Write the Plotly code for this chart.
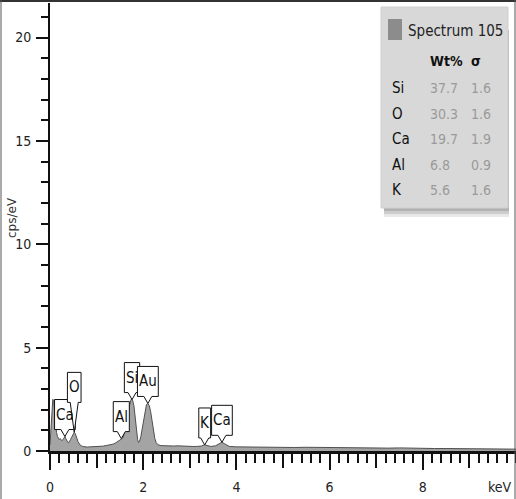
import plotly.graph_objects as go
import numpy as np

# ---------------- data ----------------
energy_kev = [0.00, 0.02, 0.04, 0.06, 0.08, 0.10, 0.12, 0.14, 0.16, 0.18, 0.20, 0.22, 0.25, 0.28,
              0.30, 0.32, 0.34, 0.36, 0.38, 0.40, 0.42, 0.44, 0.46, 0.48, 0.50, 0.52, 0.54, 0.56,
              0.58, 0.60, 0.62, 0.65, 0.70, 0.75, 0.80, 0.85, 0.90, 0.95, 1.00, 1.05, 1.10, 1.15,
              1.20, 1.25, 1.30, 1.35, 1.40, 1.45, 1.50, 1.53, 1.56, 1.59, 1.62, 1.65, 1.68, 1.71,
              1.74, 1.77, 1.80, 1.83, 1.86, 1.88, 1.90, 1.92, 1.95, 1.98, 2.01, 2.04, 2.07, 2.10,
              2.13, 2.16, 2.19, 2.22, 2.25, 2.28, 2.32, 2.38, 2.45, 2.55, 2.65, 2.75, 2.85, 2.95,
              3.05, 3.15, 3.25, 3.31, 3.37, 3.45, 3.55, 3.62, 3.69, 3.76, 3.85, 4.00, 4.25, 4.50,
              4.75, 5.00, 5.25, 5.50, 5.75, 6.00, 6.25, 6.50, 6.75, 7.00, 7.25, 7.50, 7.75, 8.00,
              8.25, 8.50, 8.75, 9.00, 9.25, 9.50, 9.75, 10.00]
counts_cps = [0.30, 1.20, 2.20, 2.50, 2.40, 1.90, 1.30, 0.90, 0.70, 0.60, 0.55, 0.60, 0.50, 0.55,
              0.60, 0.70, 0.60, 0.50, 0.42, 0.40, 0.45, 0.55, 0.65, 0.75, 0.85, 0.90, 0.85, 0.75,
              0.60, 0.45, 0.35, 0.28, 0.22, 0.20, 0.19, 0.20, 0.20, 0.21, 0.22, 0.22, 0.23, 0.24,
              0.26, 0.28, 0.30, 0.33, 0.38, 0.45, 0.55, 0.60, 0.62, 0.80, 1.10, 1.50, 1.95, 2.30,
              2.50, 2.48, 2.20, 1.60, 0.90, 0.55, 0.42, 0.45, 0.70, 1.10, 1.60, 2.00, 2.25, 2.30,
              2.20, 1.90, 1.40, 0.95, 0.60, 0.40, 0.30, 0.26, 0.25, 0.26, 0.24, 0.25, 0.23, 0.24,
              0.22, 0.22, 0.24, 0.30, 0.25, 0.22, 0.25, 0.32, 0.42, 0.33, 0.22, 0.20, 0.19, 0.20,
              0.18, 0.19, 0.17, 0.18, 0.17, 0.16, 0.17, 0.15, 0.16, 0.15, 0.14, 0.15, 0.13, 0.13,
              0.12, 0.12, 0.11, 0.11, 0.10, 0.10, 0.09, 0.09]

peak_labels = ["Ca", "O", "Al", "Si", "Au", "K", "Ca"]
peak_energy = [0.32, 0.52, 1.53, 1.76, 2.10, 3.32, 3.69]

legend_title = "Spectrum 105"
table_header = ["Wt%", "σ"]
table_elements = ["Si", "O", "Ca", "Al", "K"]
table_wt = ["37.7", "30.3", "19.7", "6.8", "5.6"]
table_sigma = ["1.6", "1.6", "1.9", "0.9", "1.6"]

x_major_ticks = [0, 2, 4, 6, 8]
x_mid_ticks = [0, 1, 2, 3, 4, 5, 6, 7, 8, 9]
y_major_ticks = [0, 5, 10, 15, 20]

# ---------------- layout geometry ----------------
W, H = 516, 499
L, R, T, B = 50, 0, 3, 48
PW, PH = W - L - R, H - T - B
XMAX, YMAX = 10.0, 21.67
KX, KY = XMAX / PW, YMAX / PH  # data units per pixel

NARROW = "DejaVu Sans Condensed, Liberation Sans Narrow, Arial Narrow, sans-serif"


def px_x(px):
    return (px - L) / PW


def px_y(py):
    return (H - B - py) / PH


fig = go.Figure()

fig.add_trace(go.Scatter(
    x=energy_kev, y=counts_cps, mode="lines",
    line=dict(color="#505050", width=1),
    fill="tozeroy", fillcolor="#a4a4a4",
    hoverinfo="skip", showlegend=False,
))
# invisible trace carrying the second (long-tick) x axis
fig.add_trace(go.Scatter(x=[0], y=[0], xaxis="x2", mode="markers",
                         marker=dict(opacity=0), showlegend=False, hoverinfo="skip"))

shapes = []
annotations = []

# ---------------- peak callouts ----------------
LBL_SIZE = 15
char_em = {"C": 0.63, "a": 0.55, "O": 0.71, "A": 0.62, "l": 0.25, "S": 0.57, "i": 0.25,
           "u": 0.57, "K": 0.59}
for name, e in zip(peak_labels, peak_energy):
    tip = float(np.interp(e, energy_kev, counts_cps))
    stem_px = 30 if name == "O" else 7
    w_px = 3 + LBL_SIZE * sum(char_em.get(c, 0.6) for c in name)
    h_px = 30
    yb = tip + stem_px * KY
    yt = yb + h_px * KY
    xl = e - w_px / 2 * KX
    xr = e + w_px / 2 * KX
    hw = 4 * KX
    path = (f"M {xl},{yb} L {xl},{yt} L {xr},{yt} L {xr},{yb} "
            f"L {e + hw},{yb} L {e},{tip} L {e - hw},{yb} Z")
    shapes.append(dict(type="path", path=path, xref="x", yref="y",
                       line=dict(color="#111111", width=1), fillcolor="white", layer="above"))
    annotations.append(dict(x=e, y=(yb + yt) / 2, xref="x", yref="y", text=name,
                            showarrow=False,
                            font=dict(family=NARROW, size=LBL_SIZE, color="#111111"),
                            xanchor="center", yanchor="middle"))

# ---------------- results box ----------------
for off, op in [(9, 0.2), (6, 0.3), (3, 0.4)]:
    shapes.append(dict(type="rect", xref="paper", yref="paper",
                       x0=px_x(384), x1=px_x(509), y0=px_y(208 + off), y1=px_y(30),
                       fillcolor="#8a8a8a", opacity=op, line=dict(width=0), layer="above"))
shapes.append(dict(type="rect", xref="paper", yref="paper",
                   x0=px_x(381), x1=px_x(508), y0=px_y(208), y1=px_y(7),
                   fillcolor="#d8d8d8", line=dict(color="#cfcfcf", width=1), layer="above"))
shapes.append(dict(type="rect", xref="paper", yref="paper",
                   x0=px_x(388), x1=px_x(402), y0=px_y(40), y1=px_y(19),
                   fillcolor="#8c8c8c", line=dict(width=0), layer="above"))

annotations.append(dict(x=px_x(406), y=px_y(31), xref="paper", yref="paper", text=legend_title,
                        showarrow=False, xanchor="left", yanchor="middle",
                        font=dict(family=NARROW, size=15, color="#222222")))
annotations.append(dict(x=px_x(428), y=px_y(61), xref="paper", yref="paper",
                        text=f"<b>{table_header[0]}</b>", showarrow=False, xanchor="left",
                        yanchor="middle", font=dict(family=NARROW, size=14, color="#111111")))
annotations.append(dict(x=px_x(469), y=px_y(61), xref="paper", yref="paper",
                        text=f"<b>{table_header[1]}</b>", showarrow=False, xanchor="left",
                        yanchor="middle", font=dict(family=NARROW, size=14, color="#111111")))
for i, (el, wt, sg) in enumerate(zip(table_elements, table_wt, table_sigma)):
    yy = px_y(88 + i * 25.5)
    annotations.append(dict(x=px_x(390), y=yy, xref="paper", yref="paper", text=el,
                            showarrow=False, xanchor="left", yanchor="middle",
                            font=dict(family=NARROW, size=15, color="#111111")))
    annotations.append(dict(x=px_x(428), y=yy, xref="paper", yref="paper", text=wt,
                            showarrow=False, xanchor="left", yanchor="middle",
                            font=dict(family=NARROW, size=14, color="#9a9a9a")))
    annotations.append(dict(x=px_x(469), y=yy, xref="paper", yref="paper", text=sg,
                            showarrow=False, xanchor="left", yanchor="middle",
                            font=dict(family=NARROW, size=14, color="#9a9a9a")))

# ---------------- axis labels ----------------
annotations.append(dict(x=px_x(12), y=px_y(218), xref="paper", yref="paper", text="cps/eV",
                        textangle=-90, showarrow=False, xanchor="center", yanchor="middle",
                        font=dict(family="DejaVu Sans, sans-serif", size=12, color="#333333")))
annotations.append(dict(x=px_x(514), y=px_y(487), xref="paper", yref="paper", text="keV",
                        showarrow=False, xanchor="right", yanchor="middle",
                        font=dict(family=NARROW, size=14, color="#222222")))

# ---------------- outer frame ----------------
shapes.append(dict(type="line", xref="paper", yref="paper", x0=px_x(0), x1=px_x(W),
                   y0=px_y(1), y1=px_y(1), line=dict(color="#333333", width=2)))
shapes.append(dict(type="line", xref="paper", yref="paper", x0=px_x(1), x1=px_x(1),
                   y0=px_y(0), y1=px_y(H), line=dict(color="#555555", width=1)))
shapes.append(dict(type="line", xref="paper", yref="paper", x0=px_x(515), x1=px_x(515),
                   y0=px_y(0), y1=px_y(H), line=dict(color="#555555", width=1)))

fig.update_layout(
    width=W, height=H,
    margin=dict(l=L, r=R, t=T, b=B, autoexpand=False),
    paper_bgcolor="white", plot_bgcolor="white",
    showlegend=False,
    shapes=shapes, annotations=annotations,
    xaxis=dict(range=[0, XMAX], showgrid=False, zeroline=False,
               showline=True, linecolor="#111111", linewidth=3,
               ticks="outside", tickvals=x_mid_ticks, ticklen=14, tickwidth=2,
               tickcolor="#111111", showticklabels=False,
               minor=dict(dtick=0.2, tick0=0, ticks="outside", ticklen=9, tickwidth=2,
                          tickcolor="#111111", showgrid=False)),
    xaxis2=dict(range=[0, XMAX], overlaying="x", anchor="y", side="bottom",
                showgrid=False, zeroline=False, showline=False,
                ticks="outside", tickvals=x_major_ticks, ticklen=18, tickwidth=2,
                tickcolor="#111111", ticklabelstandoff=5,
                tickfont=dict(family=NARROW, size=14, color="#222222")),
    yaxis=dict(range=[0, YMAX], showgrid=False, zeroline=False,
               showline=True, linecolor="#111111", linewidth=2,
               ticks="outside", tickvals=y_major_ticks, ticklen=12, tickwidth=2,
               tickcolor="#111111", ticklabelstandoff=2,
               tickfont=dict(family=NARROW, size=14, color="#222222"),
               minor=dict(dtick=1, tick0=0, ticks="outside", ticklen=7, tickwidth=2,
                          tickcolor="#111111", showgrid=False)),
)

fig.write_html("out.html", config={"displayModeBar": False},
               post_script="document.body.style.margin='0px';document.body.style.padding='0px';")
